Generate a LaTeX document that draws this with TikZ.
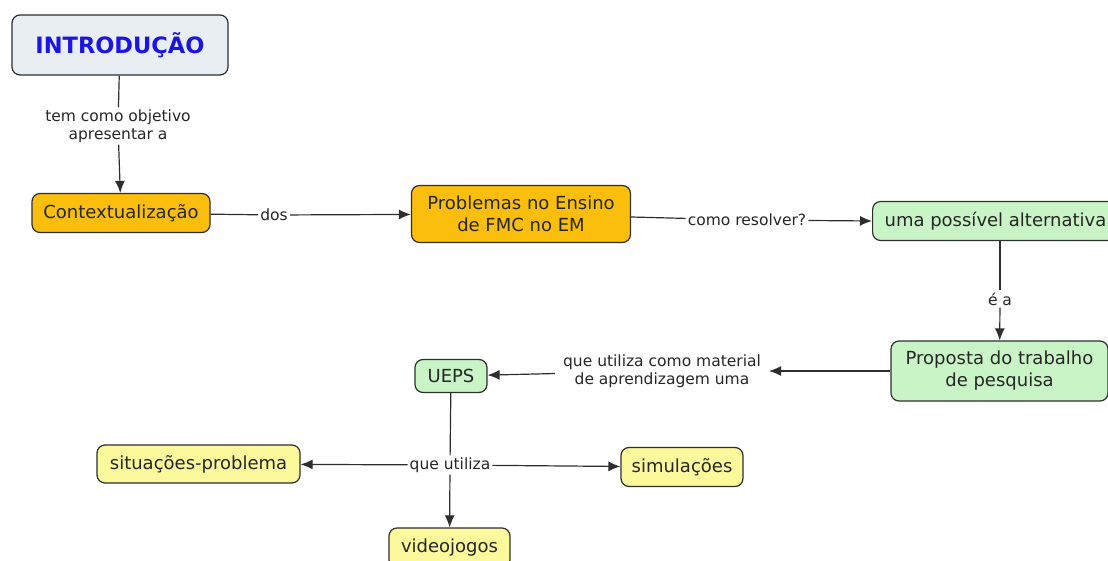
\documentclass[tikz,border=0pt]{standalone}
\usepackage{fontspec}
\setmainfont{DejaVu Sans}
\usetikzlibrary{arrows.meta,positioning}
\definecolor{introfill}{HTML}{E8EEF2}
\definecolor{introtext}{HTML}{1A14E6}
\definecolor{orangefill}{HTML}{FBBE0C}
\definecolor{greenfill}{HTML}{C9F5C6}
\definecolor{yellowfill}{HTML}{FCF89C}
\definecolor{edgegray}{HTML}{2E2E2E}
\tikzset{
  concept/.style={draw=edgegray, line width=1.2pt, rounded corners=8pt,
    align=center, inner sep=0pt, text=black!85,
    font=\fontsize{18}{22}\selectfont},
  orangebox/.style={concept, fill=orangefill},
  greenbox/.style={concept, fill=greenfill},
  yellowbox/.style={concept, fill=yellowfill},
  linkword/.style={align=center, inner sep=2pt, text=black!85,
    font=\fontsize{15.5}{18}\selectfont},
  link/.style={line width=1.2pt, draw=edgegray},
  arr/.style={link, -{Latex[length=12pt,width=10pt]}}
}
\begin{document}
\begin{tikzpicture}[x=1pt, y=-1pt]
  \useasboundingbox (0,0) rectangle (1108,561);

  % concepts
  \node[concept, fill=introfill, minimum width=216, minimum height=60,
    text=introtext, font=\fontsize{22.5}{26}\selectfont\bfseries] (intro) at (120,45) {INTRODUÇÃO};
  \node[orangebox, minimum width=178, minimum height=39] (contexto) at (121,213) {Contextualização};
  \node[orangebox, minimum width=219, minimum height=57] (problemas) at (521,214) {Problemas no Ensino\\de FMC no EM};
  \node[greenbox, minimum height=39, inner xsep=12pt, anchor=west] (alternativa) at (872,221) {uma possível alternativa};
  \node[greenbox, minimum width=217, minimum height=60] (proposta) at (999.5,371) {Proposta do trabalho\\de pesquisa};
  \node[greenbox, minimum width=72, minimum height=33] (ueps) at (451,376) {UEPS};
  \node[yellowbox, minimum width=203, minimum height=38] (situacoes) at (198.5,464) {situações-problema};
  \node[yellowbox, minimum width=122, minimum height=39] (simulacoes) at (682,467) {simulações};
  \node[yellowbox, minimum width=121, minimum height=40] (videojogos) at (449.5,548) {videojogos};

  % linking words
  \node[linkword] (objetivo) at (118,126) {tem como objetivo\\apresentar a};
  \node[linkword] (dos) at (274,215) {dos};
  \node[linkword] (resolver) at (747,220) {como resolver?};
  \node[linkword] (ea) at (1000,299) {é a};
  \node[linkword, inner xsep=8pt] (material) at (662,371) {que utiliza como material\\de aprendizagem uma};
  \node[linkword] (utiliza) at (450,465) {que utiliza};

  % connectors
  \draw[link] (intro) -- (objetivo);
  \draw[arr] (objetivo) -- (contexto);
  \draw[link] (contexto) -- (dos);
  \draw[arr] (dos) -- (problemas);
  \draw[link] (problemas.east |- 0,217) -- (resolver);
  \draw[arr] (resolver) -- (alternativa.west);
  \draw[link] (alternativa.south -| ea) -- (ea);
  \draw[arr] (ea) -- (proposta);
  \draw[arr] (proposta) -- (material);
  \draw[arr] (material) -- (ueps);
  \draw[link] (ueps) -- (utiliza);
  \draw[arr] (utiliza) -- (situacoes);
  \draw[arr] (utiliza) -- (simulacoes);
  \draw[arr] (utiliza) -- (videojogos);
\end{tikzpicture}
\end{document}
